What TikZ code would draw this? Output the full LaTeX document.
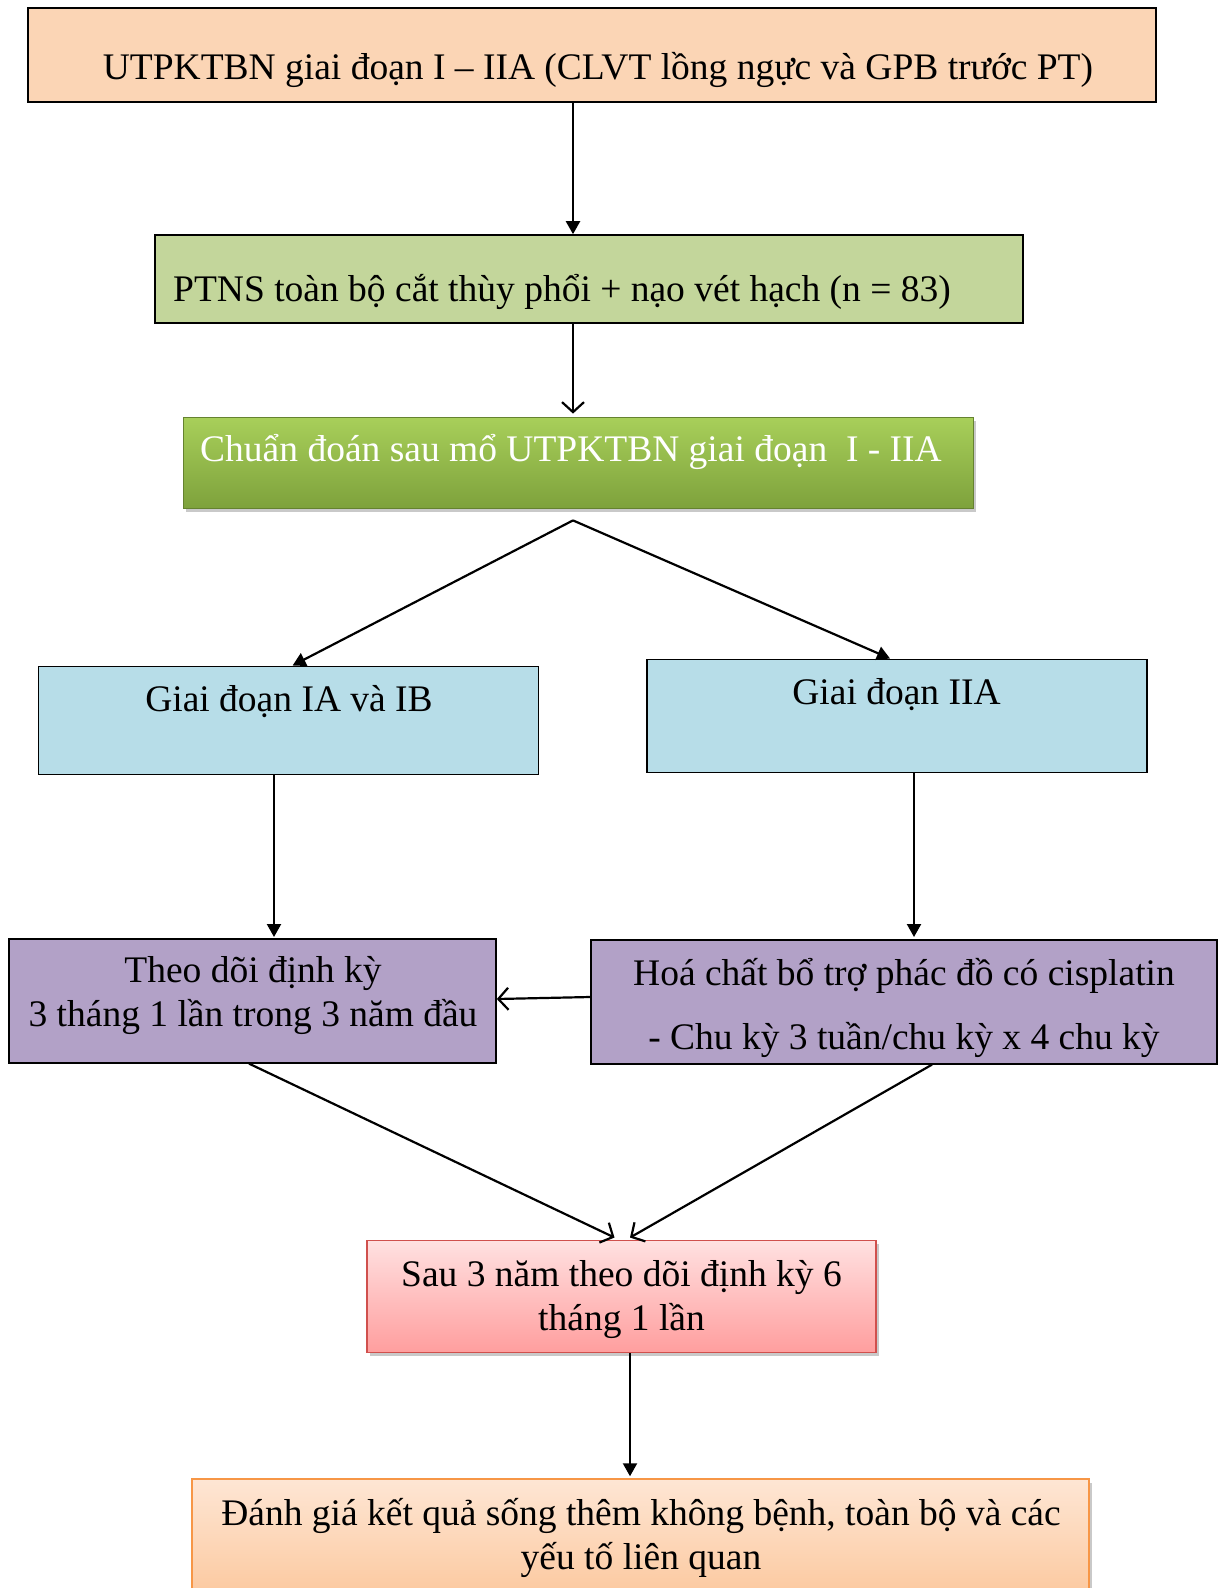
\documentclass[tikz,border=0pt]{standalone}
\usepackage{fontspec}
\setmainfont{Liberation Serif}
\usetikzlibrary{arrows.meta,shadows,calc}
\definecolor{peach}{HTML}{FBD5B5}
\definecolor{olive}{HTML}{C3D69B}
\definecolor{gtop}{HTML}{A8CF5A}
\definecolor{gbot}{HTML}{7EA23C}
\definecolor{lblue}{HTML}{B7DDE8}
\definecolor{lilac}{HTML}{B2A1C7}
\definecolor{ptop}{HTML}{FFE1E1}
\definecolor{pbot}{HTML}{FF9E9E}
\definecolor{pborder}{HTML}{D0504D}
\definecolor{otop}{HTML}{FEE6D4}
\definecolor{obot}{HTML}{FBBE8C}
\definecolor{oborder}{HTML}{F79646}
\tikzset{
  plainbox/.style={draw=black, line width=1.6pt, inner sep=0pt},
  txt/.style={font=\fontsize{37.5}{44}\selectfont, align=center, inner sep=0pt},
  arr/.style={line width=2.2pt, -{Triangle[length=13pt,width=14pt]}},
  oarr/.style={line width=2.2pt, -{Straight Barb[length=10pt,width=22pt,line width=2.2pt]}},
  shadowed/.style={drop shadow={shadow xshift=3pt, shadow yshift=-4pt, opacity=0.35, fill=black!60}}
}
\begin{document}
\begin{tikzpicture}[x=1pt,y=-1pt]
\useasboundingbox (0,0) rectangle (1226,1588);
\clip (0,0) rectangle (1226,1588);
\fill[white] (0,0) rectangle (1226,1588);

% boxes
\node[plainbox, fill=peach, minimum width=1128pt, minimum height=94pt] (b1) at (592,55) {};
\node[plainbox, fill=olive, minimum width=868pt, minimum height=88pt] (b2) at (589,279) {};
\node[inner sep=0pt, draw=gbot!80!black, line width=0.8pt, top color=gtop, bottom color=gbot, minimum width=790pt, minimum height=91pt, shadowed] (b3) at (578,462.5) {};
\node[plainbox, fill=lblue, minimum width=500pt, minimum height=108pt] (b4) at (288.5,720.3) {};
\node[plainbox, fill=lblue, minimum width=500pt, minimum height=113pt] (b5) at (897,715.8) {};
\node[plainbox, fill=lilac, minimum width=487pt, minimum height=124pt] (b6) at (252.5,1000.8) {};
\node[plainbox, fill=lilac, minimum width=626pt, minimum height=124pt] (b7) at (904,1001.8) {};
\node[inner sep=0pt, draw=pborder, line width=1.5pt, top color=ptop, bottom color=pbot, minimum width=509pt, minimum height=112pt, shadowed] (b8) at (621.3,1296.3) {};
\node[inner sep=0pt, draw=oborder, line width=1.5pt, top color=otop, bottom color=obot, minimum width=897pt, minimum height=160pt, shadowed] (b9) at (640.5,1559) {};

% texts
\node[txt] (t1) at (598,70) {UTPKTBN giai đoạn I – IIA (CLVT lồng ngực và GPB trước PT)};
\node[txt] (t2) at (562,292) {PTNS toàn bộ cắt thùy phổi + nạo vét hạch (n = 83)};
\node[txt, text=white] (t3) at (571,452) {Chuẩn đoán sau mổ UTPKTBN giai đoạn\ \ I - IIA};
\node[txt] (t4) at (289,702) {Giai đoạn IA và IB};
\node[txt] (t5) at (896.5,695) {Giai đoạn IIA};
\node[txt] (t6) at (253,995) {Theo dõi định kỳ\\3 tháng 1 lần trong 3 năm đầu};
\node[txt] (t7) at (904,1008) {Hoá chất bổ trợ phác đồ có cisplatin\\[20pt]- Chu kỳ 3 tuần/chu kỳ x 4 chu kỳ};
\node[txt] (t8) at (621.5,1299) {Sau 3 năm theo dõi định kỳ 6\\tháng 1 lần};
\node[txt] (t9) at (641,1538) {Đánh giá kết quả sống thêm không bệnh, toàn bộ và các\\yếu tố liên quan};

% connectors
\draw[arr] (b1.south -| 573,0) -- (b2.north -| 573,0);
\draw[oarr] (b2.south -| 573,0) -- ($(b3.north -| 573,0)+(0,-3)$);
\coordinate (split) at ($(b3.south -| 573,0)+(0,12)$);
\draw[arr] (split) -- (b4.north -| 292.6,0);
\draw[arr] (split) -- (b5.north -| 890,0);
\draw[arr] (b4.south -| 274,0) -- ($(b6.north -| 274,0)+(0,-1)$);
\draw[arr] (b5.south -| 914,0) -- ($(b7.north -| 914,0)+(0,-2)$);
\draw[oarr] (b7.west |- 0,997) -- (b6.east |- 0,999);
\draw[oarr] (b6.south -| 249,0) -- ($(b8.north -| 614.5,0)+(0,-2)$);
\draw[oarr] (b7.south -| 932,0) -- ($(b8.north -| 630,0)+(0,-2)$);
\draw[arr] (b8.south -| 630,0) -- ($(b9.north -| 630,0)+(0,-2)$);
\end{tikzpicture}
\end{document}
